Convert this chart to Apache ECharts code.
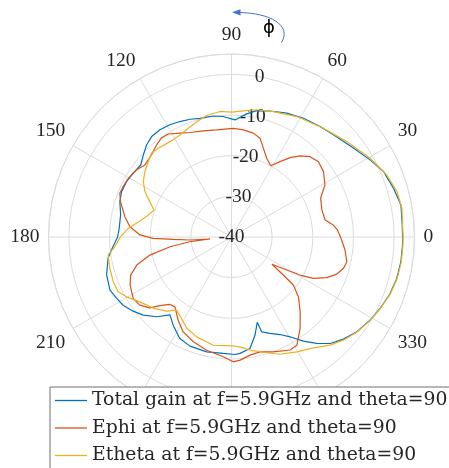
<!DOCTYPE html>
<html>
<head>
<meta charset="utf-8">
<script src="https://cdn.jsdelivr.net/npm/echarts@6/dist/echarts.min.js"></script>
<style>
html,body{margin:0;padding:0;background:#fff;}
#chart{width:449px;height:468px;}
</style>
</head>
<body>
<div id="chart"></div>
<script>
// ---- Data (angle in degrees, gain in dB) ----
const seriesNames = [
  'Total gain at f=5.9GHz and theta=90',
  'Ephi at f=5.9GHz and theta=90',
  'Etheta at f=5.9GHz and theta=90'
];
const angleTicks = [0, 30, 60, 90, 120, 150, 180, 210, 240, 270, 300, 330];
const radiusTicks = [-40, -30, -20, -10, 0];

const totalAngle = [0,5,10.7,16.8,23.3,29.1,36.1,45.1,51.3,58.8,65.9,73,78.7,83,88.3,94,98.7,104.9,109.4,114.1,118.8,123.7,128.5,132.7,137.1,141.6,147,152.2,157.6,162.4,168.8,175.6,180,186.2,189.8,196.9,203.6,208.1,212.2,217,221.5,226.8,231.7,236.5,243,249.2,257.8,266,271.7,274.2,279.4,283.5,286.8,287.7,291.8,296.5,300.4,304.6,308.7,312.8,317.6,322.9,329.1,334.4,340.4,346,351.7,357.3,360];
const totalGain = [2.1,2.1,2.4,1.6,0.7,-1.0,-2.9,-4.5,-5.2,-5.85,-6.65,-7.6,-8.3,-9.5,-11.2,-10.3,-9.9,-9.8,-9.3,-8.9,-8.5,-8.3,-8.45,-9.2,-10.4,-11.5,-11.2,-10.8,-10.75,-11.2,-12.2,-12.3,-12.0,-10.3,-9.2,-7.9,-7.4,-8.0,-8.5,-9.7,-11.0,-13.1,-15.6,-14.0,-12.0,-11.3,-11.1,-11.3,-11.1,-11.3,-12.2,-15.2,-18.1,-15.5,-14.5,-13.2,-11.55,-8.9,-6.5,-4.3,-2.75,-1.35,-0.25,0.55,1.4,1.9,2.1,2.1,2.1];

const ephiAngle = [0,3.8,6.7,10.3,16.7,23.5,29.1,35.4,40.9,45.6,49.8,53.6,57.2,61.2,65.9,70.3,73.9,78.1,83.7,89,97.9,104.9,111.7,116.4,121.5,125.3,129.1,134.2,140.2,144.7,150.4,155,158.6,162.5,169.2,174.2,178.7,181,182.3,184.1,185.3,186.5,189,192.5,196.5,200.7,205.3,212,216.6,220.9,223.8,227.6,231,237.3,243,250,257.6,266.1,270.8,274,278.9,284,290,297.4,301.1,306.9,312.5,318.2,322.2,323.7,326,329.1,331,333.2,336.9,340.6,344.4,347.9,353.5,360];
const ephiGain = [-13.2,-13.9,-14.8,-16.6,-16.8,-16.1,-13.7,-12.25,-11.7,-12.35,-13.9,-15.75,-17.95,-20.0,-18.8,-16.8,-14.7,-13.9,-13.5,-13.3,-13.4,-13.0,-12.35,-11.5,-10.3,-10.2,-10.8,-11.8,-12.3,-11.4,-10.8,-10.6,-10.5,-11.4,-13.3,-14.9,-17.5,-20.75,-25.7,-29.75,-34.7,-29.7,-24.7,-19.45,-15.7,-13.5,-12.4,-11.5,-11.9,-13.4,-15.6,-17.55,-17.9,-15.7,-13.8,-12.6,-11.5,-10.5,-9.3,-9.65,-10.6,-10.9,-9.95,-8.7,-8.9,-11.9,-15.0,-17.9,-20.75,-24.2,-28,-24.2,-20.7,-17.45,-14.5,-12.55,-11.4,-11.0,-11.9,-13.2];

const ethetaAngle = [0,9.6,15.3,21.8,29.6,39.6,49.8,61.5,71.6,78.8,84.6,89.9,95.2,101.6,106.8,111.7,116.8,122.8,129.5,133.6,137.9,142.9,147.9,152.4,156.6,160.8,166.5,170.8,175.2,180.2,184.8,188.3,194.4,200.7,205.8,209.7,215.3,222.4,228.8,233.1,238.5,243.9,250.8,260.4,271,274.4,279.3,285.4,292.5,299.6,306.5,312.4,317.3,322.9,329.1,334.4,340.4,346,351.7,357.3,360];
const ethetaGain = [2.2,2.5,2.2,1.1,-0.8,-3.2,-5.0,-6.3,-7.5,-8.1,-8.85,-9.3,-9.0,-9.5,-10.4,-11.2,-11.9,-12.1,-11.7,-11.5,-12.4,-13.3,-14.4,-16.0,-18.1,-19.8,-18.5,-16.8,-14.5,-12.6,-11.2,-9.35,-9.1,-8.9,-9.05,-10.3,-12.4,-14.0,-15.8,-17.5,-16.5,-15.0,-14.0,-13.0,-13.2,-12.9,-11.8,-10.6,-8.8,-7.5,-6.1,-4.0,-2.6,-1.3,-0.2,0.6,1.5,2.0,2.2,2.2,2.2];

const colors = ['#0072BD', '#D95319', '#EDB120'];

function pairs(ang, val) { return ang.map((a, i) => [val[i], a]); }

const chart = echarts.init(document.getElementById('chart'), null, {renderer: 'canvas'});
const gridColor = '#dcdcdc';
const labelColor = '#262626';
const serif = '"Liberation Serif", "Times New Roman", serif';
const center = [231.5, 237];
const radius = 183;

const option = {
  animation: false,
  backgroundColor: '#fff',
  color: colors,
  polar: [
    {center: center, radius: radius},
    {center: center, radius: radius}
  ],
  angleAxis: [
    {
      polarIndex: 0, type: 'value', min: 0, max: 360, interval: 30,
      startAngle: 0, clockwise: false,
      axisLine: {show: true, lineStyle: {color: gridColor, width: 1}},
      axisTick: {show: false},
      splitLine: {show: true, lineStyle: {color: gridColor, width: 1}},
      axisLabel: {
        margin: 9, color: labelColor, fontFamily: serif, fontSize: 19.5,
        formatter: v => (angleTicks.indexOf(v) >= 0 ? String(v) : '')
      }
    },
    {
      polarIndex: 1, type: 'value', min: 0, max: 360, startAngle: 80, clockwise: false,
      show: false
    }
  ],
  radiusAxis: [
    {
      polarIndex: 0, type: 'value', min: -40, max: 5, interval: 10,
      axisLine: {show: false}, axisTick: {show: false}, axisLabel: {show: false},
      splitLine: {show: true, lineStyle: {color: gridColor, width: 1}}
    },
    {
      polarIndex: 1, type: 'value', min: -40, max: 5, interval: 10,
      axisLine: {show: false}, axisTick: {show: false}, splitLine: {show: false},
      axisLabel: {
        show: true, margin: 0, align: 'center', verticalAlign: 'middle',
        color: labelColor, fontFamily: serif, fontSize: 19.5,
        formatter: v => (radiusTicks.indexOf(v) >= 0 ? String(v) : '')
      }
    }
  ],
  legend: {
    orient: 'vertical', left: 50, top: 387, height: 140,
    padding: [4, 20, 30, 5], itemGap: 8.5, itemWidth: 32, itemHeight: 1.3,
    icon: 'rect',
    borderColor: '#6e6e6e', borderWidth: 1, backgroundColor: '#fff',
    textStyle: {fontFamily: '"DejaVu Serif", serif', fontSize: 18.8, color: labelColor},
    data: seriesNames
  },
  series: [
    {name: seriesNames[0], type: 'line', coordinateSystem: 'polar', polarIndex: 0, symbol: 'none',
     lineStyle: {width: 1.2}, data: pairs(totalAngle, totalGain)},
    {name: seriesNames[1], type: 'line', coordinateSystem: 'polar', polarIndex: 0, symbol: 'none',
     lineStyle: {width: 1.2}, data: pairs(ephiAngle, ephiGain)},
    {name: seriesNames[2], type: 'line', coordinateSystem: 'polar', polarIndex: 0, symbol: 'none',
     lineStyle: {width: 1.2}, data: pairs(ethetaAngle, ethetaGain)}
  ],
  graphic: [
    {type: 'bezierCurve', shape: {x1: 281.5, y1: 42.5, x2: 239, y2: 12.5, cpx1: 292, cpy1: 25, cpx2: 270, cpy2: 13},
     style: {stroke: '#4472c4', lineWidth: 1, fill: null}},
    {type: 'polygon', shape: {points: [[232, 12.3], [240.5, 9.3], [240.5, 15.5]]}, style: {fill: '#4472c4'}},
    {type: 'text', x: 269, y: 28.5, style: {text: 'ϕ', font: '18px "DejaVu Sans"', fill: '#000', align: 'center', verticalAlign: 'middle'}}
  ]
};
chart.setOption(option);
</script>
</body>
</html>
